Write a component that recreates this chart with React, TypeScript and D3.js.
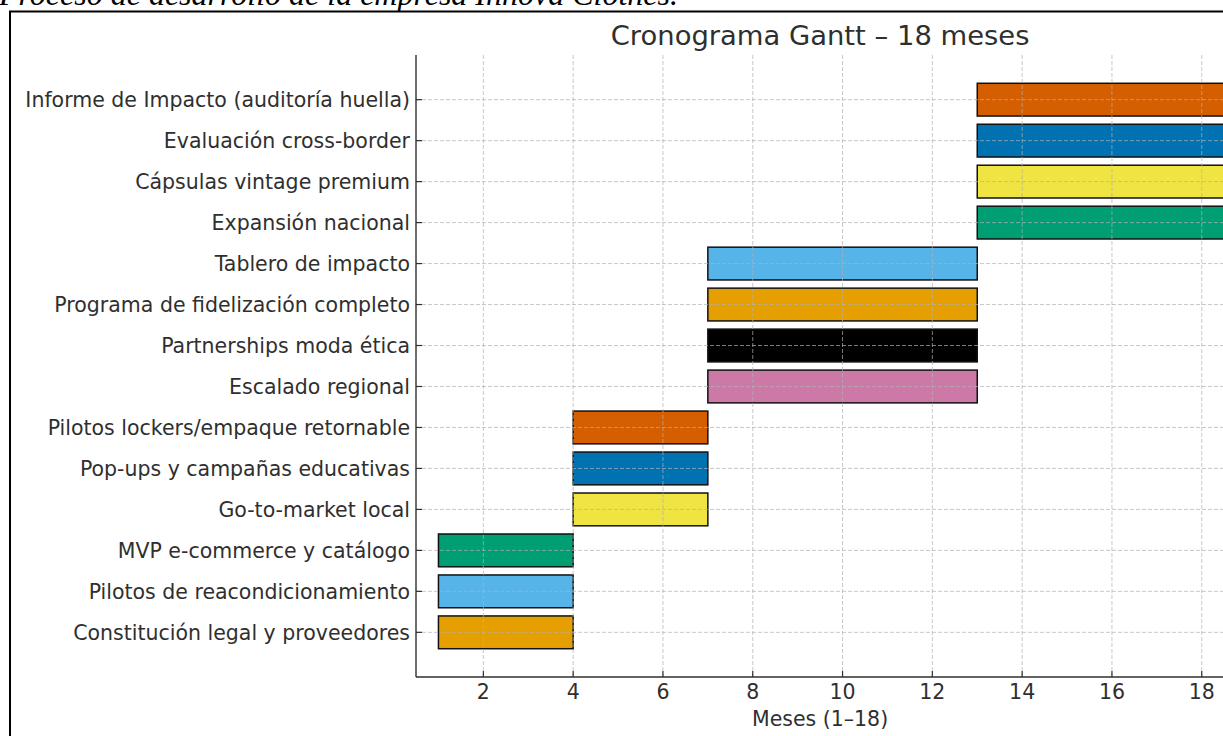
import React from "react";
import * as d3 from "d3";

const tasks: string[] = [
  "Constitución legal y proveedores",
  "Pilotos de reacondicionamiento",
  "MVP e-commerce y catálogo",
  "Go-to-market local",
  "Pop-ups y campañas educativas",
  "Pilotos lockers/empaque retornable",
  "Escalado regional",
  "Partnerships moda ética",
  "Programa de fidelización completo",
  "Tablero de impacto",
  "Expansión nacional",
  "Cápsulas vintage premium",
  "Evaluación cross-border",
  "Informe de Impacto (auditoría huella)",
];
const startMonth: number[] = [1, 1, 1, 4, 4, 4, 7, 7, 7, 7, 13, 13, 13, 13];
const endMonth: number[] = [4, 4, 4, 7, 7, 7, 13, 13, 13, 13, 19, 19, 19, 19];
const palette: string[] = ["#E69F00", "#56B4E9", "#009E73", "#F0E442", "#0072B2", "#D55E00", "#CC79A7", "#000000"];
const xTicks: number[] = [2, 4, 6, 8, 10, 12, 14, 16, 18];
const title = "Cronograma Gantt – 18 meses";
const xLabel = "Meses (1–18)";
const caption = "Proceso de desarrollo de la empresa Innova Clothes.";

const W = 1223;
const H = 736;
const left = 416;
const right = 1224.2;
const top = 55;
const bottom = 677;

export default function App() {
  const x = d3.scaleLinear().domain([0.5, 18.5]).range([left, right]);
  const y = d3.scaleLinear().domain([-1.09, tasks.length - 1 + 1.09]).range([bottom, top]);
  const barH = Math.abs(y(0.4) - y(-0.4));
  const txt = "#2f2f2f";
  const font = "'DejaVu Sans', sans-serif";
  return (
    <svg width={W} height={H} style={{ position: "absolute", left: 0, top: 0, background: "#fff" }}>
      <defs>
        <clipPath id="plot">
          <rect x={left} y={top} width={right - left} height={bottom - top} />
        </clipPath>
      </defs>
      <text x={-1} y={5} fontFamily="'Liberation Serif', 'Times New Roman', serif" fontStyle="italic" fontSize={32} fill="#000">
        {caption}
      </text>
      <rect x={10} y={11.5} width={1400} height={900} fill="none" stroke="#000" strokeWidth={2} />
      <text x={(left + right) / 2} y={45} textAnchor="middle" fontFamily={font} fontSize={27.4} fill={txt}>
        {title}
      </text>
      <g clipPath="url(#plot)">
        {tasks.map((t, i) => (
          <rect
            key={t}
            x={x(startMonth[i])}
            y={y(i) - barH / 2}
            width={x(endMonth[i]) - x(startMonth[i])}
            height={barH}
            fill={palette[i % palette.length]}
            stroke="#111"
            strokeWidth={1.5}
          />
        ))}
        {xTicks.map((v) => (
          <line key={"gx" + v} x1={x(v)} x2={x(v)} y1={top} y2={bottom} stroke="#b0b0b0" strokeOpacity={0.7} strokeWidth={1} strokeDasharray="4 2" />
        ))}
        {tasks.map((t, i) => (
          <line key={"gy" + i} x1={left} x2={right} y1={y(i)} y2={y(i)} stroke="#b0b0b0" strokeOpacity={0.7} strokeWidth={1} strokeDasharray="4 2" />
        ))}
      </g>
      <line x1={left} x2={left} y1={top} y2={bottom} stroke={txt} strokeWidth={1.4} />
      <line x1={left} x2={right + 5} y1={bottom} y2={bottom} stroke={txt} strokeWidth={1.4} />
      {xTicks.map((v) => (
        <g key={"tx" + v}>
          <line x1={x(v)} x2={x(v)} y1={bottom} y2={bottom - 6} stroke={txt} strokeWidth={1.2} />
          <text x={x(v)} y={699} textAnchor="middle" fontFamily={font} fontSize={20.5} fill={txt}>
            {v}
          </text>
        </g>
      ))}
      {tasks.map((t, i) => (
        <g key={"ty" + i}>
          <line x1={left} x2={left + 6} y1={y(i)} y2={y(i)} stroke={txt} strokeWidth={1.2} />
          <text x={410} y={y(i)} dy="0.36em" textAnchor="end" fontFamily={font} fontSize={20.5} fill={txt}>
            {t}
          </text>
        </g>
      ))}
      <text x={(left + right) / 2} y={726} textAnchor="middle" fontFamily={font} fontSize={20.5} fill={txt}>
        {xLabel}
      </text>
    </svg>
  );
}
